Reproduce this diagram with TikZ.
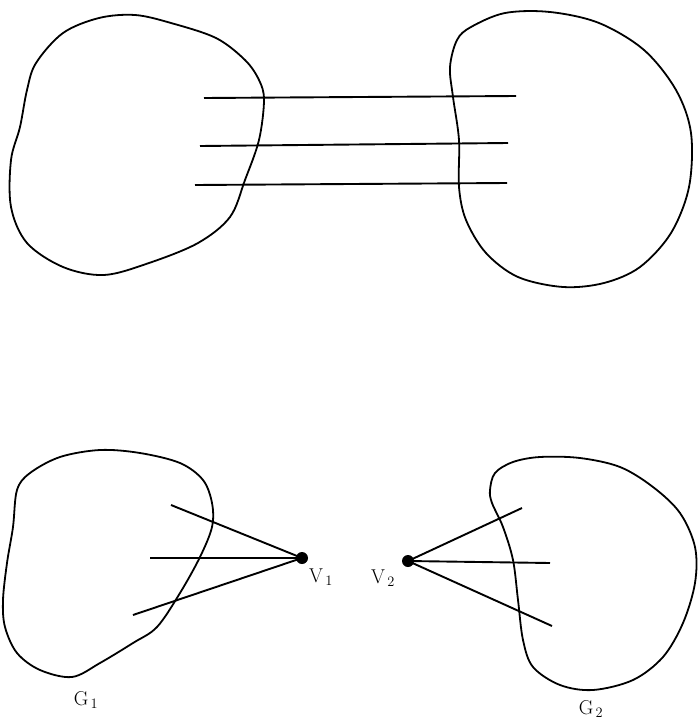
\documentclass[tikz,border=0pt]{standalone}
\usepackage{amsmath}
\usetikzlibrary{positioning}

\begin{document}
\begin{tikzpicture}[x=1pt, y=-1pt, line width=1.8pt, line join=round,
    every node/.style={font=\fontsize{20}{20}\selectfont},
    blob/.style={line width=1.8pt},
    vdot/.style={circle, fill, inner sep=0pt, minimum size=12pt},
    edge/.style={line width=1.9pt}]
  \useasboundingbox (0,0) rectangle (699,723);

  % upper pair of regions
  \draw[blob] plot[smooth cycle, tension=0.55] coordinates {
    (135,15) (171,23) (216,38) (245,60) (259,80) (264,100) (259,140)
    (245,180) (230,217) (198,243) (149,263) (104,275) (63,267) (27,243)
    (11,207) (11,160) (20,127) (27,90) (36,63) (63,33) (99,18)};
  \draw[blob] plot[smooth cycle, tension=0.55] coordinates {
    (471,27) (505,13) (550,12) (599,23) (644,50) (676,90) (691,133)
    (689,187) (671,233) (640,267) (604,283) (563,287) (518,277) (486,253)
    (466,220) (459,187) (459,140) (453,97) (450,67) (457,40)};

  \coordinate (a1) at (204,98);  \coordinate (b1) at (516,96);
  \coordinate (a2) at (200,146); \coordinate (b2) at (508,143);
  \coordinate (a3) at (195,185); \coordinate (b3) at (507,183);
  \draw[edge] (a1) -- (b1);
  \draw[edge] (a2) -- (b2);
  \draw[edge] (a3) -- (b3);

  % lower pair of regions
  \draw[blob] plot[smooth cycle, tension=0.55] coordinates {
    (100,450) (140,453) (180,463) (203,480) (212,503) (212,527) (200,557)
    (180,593) (157,627) (133,643) (100,663) (72,677) (40,670) (17,653)
    (5,627) (3,600) (7,563) (13,527) (17,490) (30,473) (60,457)};
  \draw[blob] plot[smooth cycle, tension=0.55] coordinates {
    (490,490) (495,473) (513,462) (540,457) (580,458) (620,467) (653,487)
    (680,513) (695,547) (695,583) (683,623) (663,657) (633,680) (593,690)
    (560,685) (533,667) (523,640) (518,600) (513,560) (503,527) (492,503)};

  \node[vdot] (v1) at (302,558) {};
  \node[vdot] (v2) at (408,561) {};
  \node (v1lab) at (321,577) {V$_{\,1}$};
  \node (v2lab) at (383,578) {V$_{\,2}$};
  \node (g1lab) at (86,700) {G$_{\,1}$};
  \node (g2lab) at (591,709) {G$_{\,2}$};

  \coordinate (p1) at (171,505);
  \coordinate (p2) at (150,558);
  \coordinate (p3) at (133,615);
  \coordinate (q1) at (522,508);
  \coordinate (q2) at (550,563);
  \coordinate (q3) at (552,626);
  \foreach \e in {p1,p2,p3} \draw[edge] (v1.center) -- (\e);
  \foreach \e in {q1,q2,q3} \draw[edge] (v2.center) -- (\e);
\end{tikzpicture}
\end{document}
